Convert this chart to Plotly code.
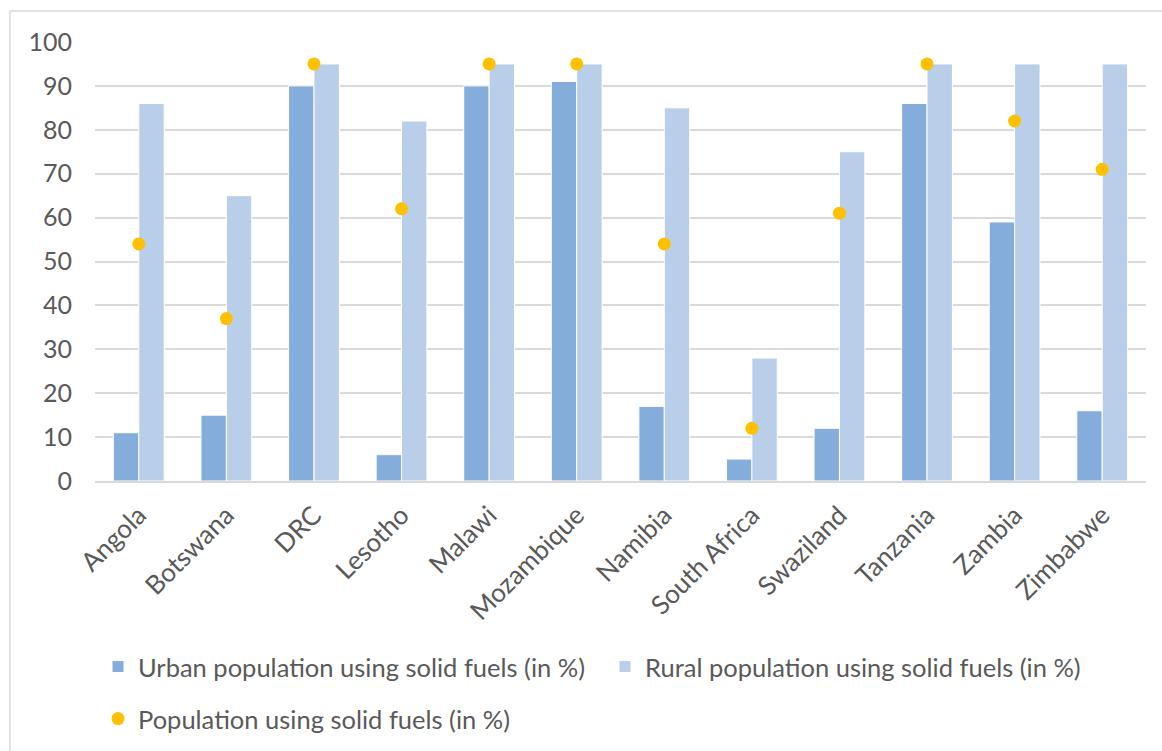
import plotly.graph_objects as go

countries = ["Angola", "Botswana", "DRC", "Lesotho", "Malawi", "Mozambique",
             "Namibia", "South Africa", "Swaziland", "Tanzania", "Zambia", "Zimbabwe"]
urban = [11, 15, 90, 6, 90, 91, 17, 5, 12, 86, 59, 16]
rural = [86, 65, 95, 82, 95, 95, 85, 28, 75, 95, 95, 95]
total = [54, 37, 95, 62, 95, 95, 54, 12, 61, 95, 82, 71]

FONT = "Lato"
TXT = "#595959"
GRID = "#d9d9d9"

W, H = 1162, 751
ML, MR, MT, MB = 95, 16, 42, 270
PW, PH = W - ML - MR, H - MT - MB


def px_x(p):
    return (p - ML) / PW


def px_y(p):
    return (H - MB - p) / PH


fig = go.Figure()
fig.add_bar(x=countries, y=urban, name="Urban population using solid fuels (in %)",
            marker=dict(color="#85addb", line=dict(color="white", width=1)),
            legend="legend")
fig.add_bar(x=countries, y=rural, name="Rural population using solid fuels (in %)",
            marker=dict(color="#b9cfe9", line=dict(color="white", width=1)),
            legend="legend")
fig.add_scatter(x=countries, y=total, mode="markers",
                name="Population using solid fuels (in %)",
                marker=dict(color="#ffc000", size=13),
                legend="legend2")

legend_common = dict(orientation="h", xanchor="left", yanchor="middle",
                     xref="container", yref="container",
                     font=dict(family=FONT, size=25.5, color=TXT),
                     bgcolor="rgba(0,0,0,0)", itemwidth=30, entrywidth=462)

fig.update_layout(
    width=W, height=H,
    margin=dict(l=ML, r=MR, t=MT, b=MB, autoexpand=False),
    paper_bgcolor="white", plot_bgcolor="white",
    barmode="group", bargap=0.42, bargroupgap=0,
    font=dict(family=FONT, size=20, color=TXT),
    showlegend=True,
    legend=dict(legend_common, x=98 / W, y=1 - 667 / H),
    legend2=dict(legend_common, x=98 / W, y=1 - 719 / H),
    xaxis=dict(tickangle=-45, showline=True, linecolor=GRID, linewidth=1.5,
               automargin=False, range=[-0.5, len(countries) - 0.5],
               ticklabelstandoff=7,
               tickfont=dict(family=FONT, size=26, color=TXT)),
    yaxis=dict(range=[0, 100], dtick=10, showgrid=True, gridcolor=GRID,
               gridwidth=1.5, zeroline=False, ticklabelstandoff=22,
               automargin=False,
               tickfont=dict(family=FONT, size=25, color=TXT)),
    shapes=[dict(type="rect", xref="paper", yref="paper",
                 x0=px_x(10), x1=px_x(1175), y0=px_y(765), y1=px_y(11),
                 line=dict(color=GRID, width=1.5), layer="below")],
)

fig.write_html("out.html")
